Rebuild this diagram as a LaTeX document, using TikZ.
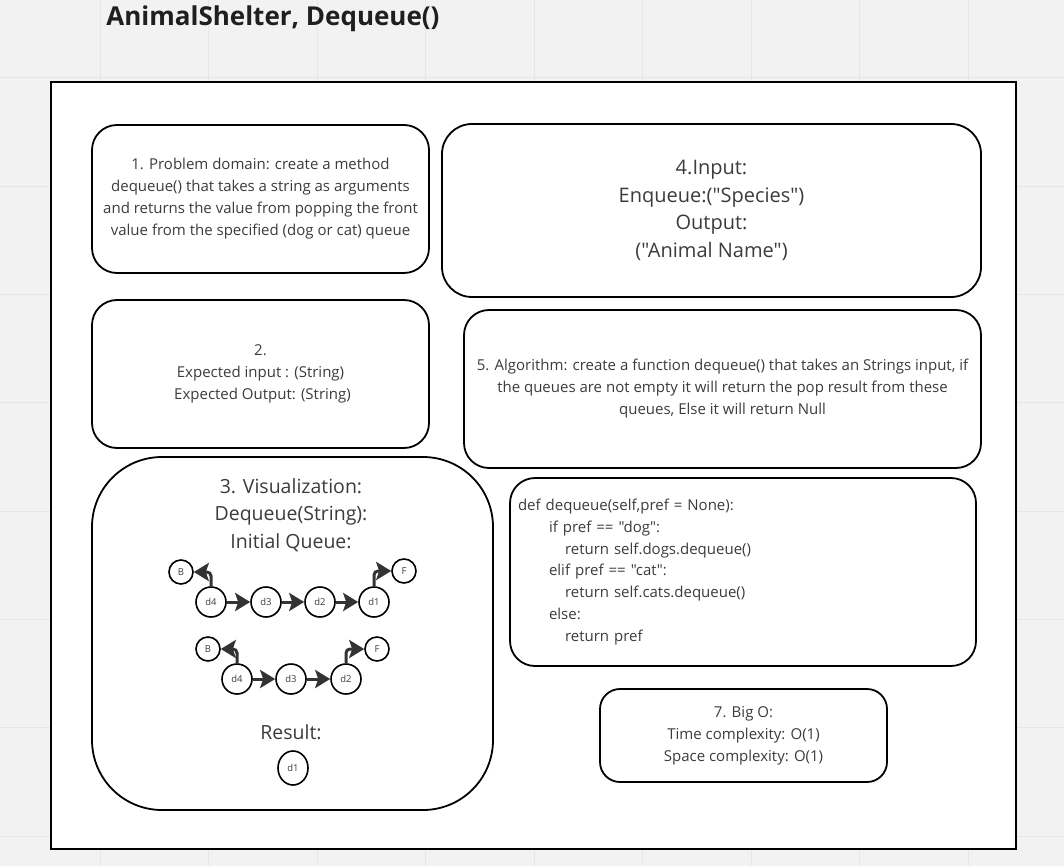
\documentclass[tikz,border=0pt]{standalone}
\usepackage{fontspec}
\setmainfont{Open Sans}[Ligatures=TeXOff]
\usetikzlibrary{arrows.meta, shapes.geometric}
\definecolor{fond}{HTML}{F2F2F2}
\definecolor{grille}{HTML}{E6E6E6}
\definecolor{encre}{HTML}{333333}
\definecolor{texte}{HTML}{3C3C3C}
\tikzset{
  carte/.style = {
    draw, line width=1.8pt, rounded corners=#1, fill=white,
    align=center, text=texte, inner sep=6pt
  },
  carte/.default = 25pt,
  petit/.style = {font=\fontsize{15}{22}\selectfont},
  grand/.style = {font=\fontsize{19.5}{27.5}\selectfont},
  noeud/.style = {
    circle, draw, line width=1.6pt, minimum size=30pt, inner sep=0pt,
    fill=white, text=texte, font=\fontsize{9.5}{9.5}\selectfont
  },
  bout/.style = {noeud, minimum size=24pt},
  fil/.style = {
    draw=encre, line width=3pt, rounded corners=4pt,
    -{Stealth[length=15pt 0, width=18pt 0, inset=3pt 0]}
  }
}

\begin{document}
\begin{tikzpicture}[x=1pt, y=-1pt]
    \useasboundingbox (0,0) rectangle (1064,866);
    % le fond et la grille
    \fill[fond] (0,0) rectangle (1064,866);
    \foreach \x in {100,208.5,...,970}
      \draw[grille, line width=1pt] (\x,0) -- (\x,866);
    \foreach \y in {78,186.3,...,840}
      \draw[grille, line width=1pt] (0,\y) -- (1064,\y);
    % le titre et le cadre
    \node[font=\fontsize{26}{30}\selectfont\bfseries, text=black!88]
      (titre) at (273,19) {AnimalShelter, Dequeue()};
    \draw[line width=1.8pt, fill=white] (51,82) rectangle (1016,849);
    % les cartes
    \node[carte, petit, minimum width=337pt, minimum height=148pt]
      (probleme) at (260.5,199)
      {1. Problem domain: create a method\\
       dequeue() that takes a string as arguments\\
       and returns the value from popping the front\\
       value from the specified (dog or cat) queue};
    \node[carte=30pt, font=\fontsize{20}{27.5}\selectfont,
      minimum width=539pt, minimum height=173pt]
      (entree) at (711.5,210.5)
      {4.Input:\\ Enqueue:("Species")\\ Output:\\ ("Animal Name")};
    \node[carte, petit, minimum width=337pt, minimum height=148pt]
      (attendu) at (260.5,374)
      {2.\\ Expected input : (String)\\ \hspace*{4pt}Expected Output: (String)};
    \node[carte, petit, minimum width=517pt, minimum height=158pt]
      (algo) at (722.5,389)
      {5. Algorithm: create a function dequeue() that takes an Strings input, if\\
       the queues are not empty it will return the pop result from these\\
       queues, Else it will return Null};
    \node[carte=70pt, minimum width=401pt, minimum height=353pt]
      (visu) at (292.5,633.5) {};
    \node[carte, font=\fontsize{15}{21.7}\selectfont,
      minimum width=466pt, minimum height=188pt,
      text width=450pt, align=left, inner xsep=8pt]
      (code) at (743,572)
      {def dequeue(self,pref = None):\\
       \hspace*{31pt}if pref == "dog":\\
       \hspace*{47pt}return self.dogs.dequeue()\\
       \hspace*{31pt}elif pref == "cat":\\
       \hspace*{47pt}return self.cats.dequeue()\\
       \hspace*{31pt}else:\\
       \hspace*{47pt}return pref};
    \node[carte=20pt, petit, minimum width=287pt, minimum height=93pt]
      (bigo) at (743.5,735.5)
      {7. Big O:\\ Time complexity: O(1)\\ Space complexity: O(1)};
    % la visualisation
    \node[grand, align=center, text=texte] (visutitre) at (291,515)
      {3. Visualization:\\ Dequeue(String):\\ Initial Queue:};
    \node[grand, text=texte] (resultat) at (291,732) {Result:};
    \path
      (181,572) node[bout] (aB) {B}
      (211,602) node[noeud] (a4) {d4}
      (266,602) node[noeud] (a3) {d3}
      (320,602) node[noeud] (a2) {d2}
      (374,602) node[noeud] (a1) {d1}
      (404,571) node[bout] (aF) {F}
      (208,649) node[bout] (bB) {B}
      (237,679) node[noeud] (b4) {d4}
      (291,679) node[noeud] (b3) {d3}
      (346,679) node[noeud] (b2) {d2}
      (377,649) node[bout] (bF) {F}
      (293,768) node[noeud, ellipse, minimum width=30pt, minimum height=34pt] (res) {d1}
    ;
    % les flèches
    \draw[fil] (a4) -- (a3);
    \draw[fil] (a3) -- (a2);
    \draw[fil] (a2) -- (a1);
    \draw[fil] (a4.north) |- (aB);
    \draw[fil] (a1.north) |- (aF);
    \draw[fil] (b4) -- (b3);
    \draw[fil] (b3) -- (b2);
    \draw[fil] (b4.north) |- (bB);
    \draw[fil] (b2.north) |- (bF);
\end{tikzpicture}
\end{document}
